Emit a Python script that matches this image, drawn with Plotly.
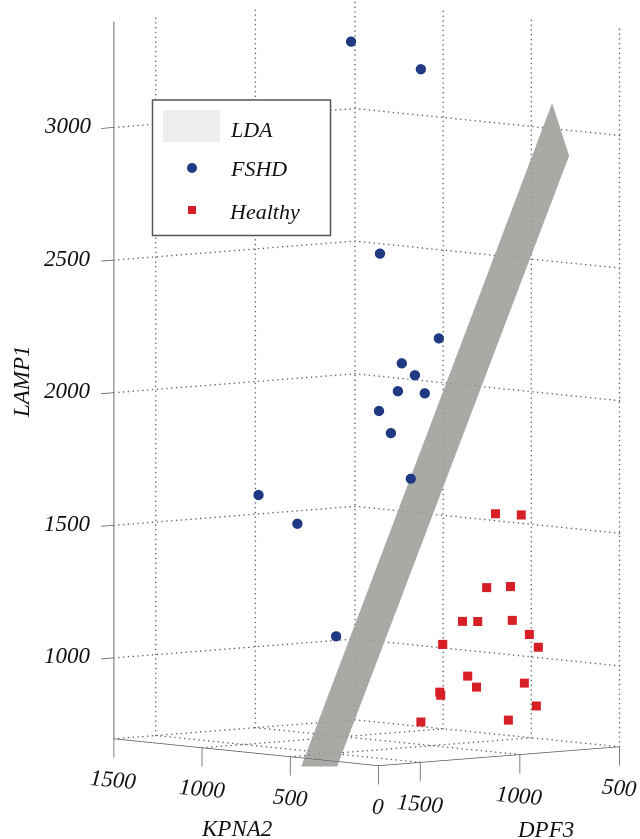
import plotly.graph_objects as go

# data
fshd_kpna2 = [750,675,900,600,825,675,750,525,900,750,150,1275,1050,750]
fshd_dpf3 = [1184,900,906,876,863,930,949,1013,911,984,1415,1184,1188,1259]
fshd_lamp1 = [3344,3228,2518,2217,2107,2076,2012,2023,1925,1856,1750,1599,1506,1106]
healthy_kpna2 = [300,225,375,225,450,375,225,150,150,525,450,375,150,525,525,75,150,450]
healthy_dpf3 = [857,794,835,848,890,880,839,820,775,923,864,886,845,938,933,851,925,1099]
healthy_lamp1 = [1575,1572,1290,1305,1161,1165,1177,1128,1077,1071,953,918,946,892,880,865,811,794]
lda_kpna2 = [525,300,150,375]
lda_dpf3 = [1633,1652,620,506]
lda_lamp1 = [651,668,2920,3097]
x_ticks = [0,500,1000,1500]
y_ticks = [500,1000,1500]
z_ticks = [1000,1500,2000,2500,3000]
x_range = [0,1500]
y_range = [500,1710]
z_range = [695,3400]
# the scene reaches a little past the box so that ticks and the LDA foot are not clipped
y_view = [500,1775]
z_view = [610,3400]

SERIF = "Liberation Serif"
BLUE = "#1f3a83"
RED = "#d71f26"
GRID = "#666666"

fig = go.Figure()
gx, gy, gz = [], [], []
def seg(a, b, n):
    for i in range(n+1):
        t = i/n
        gx.append(a[0]+(b[0]-a[0])*t); gy.append(a[1]+(b[1]-a[1])*t); gz.append(a[2]+(b[2]-a[2])*t)
for y in y_ticks + [y_range[0]]:
    seg((x_range[1], y, z_range[0]), (x_range[1], y, z_range[1]), 150)
for x in x_ticks[:-1]:
    seg((x, y_range[0], z_range[0]), (x, y_range[0], z_range[1]), 150)
for z in z_ticks:
    seg((x_range[1], y_range[1], z), (x_range[1], y_range[0], z), 50)
    seg((x_range[1], y_range[0], z), (x_range[0], y_range[0], z), 55)
seg((x_range[1], y_range[1], z_range[0]), (x_range[1], y_range[0], z_range[0]), 50)
seg((x_range[1], y_range[0], z_range[0]), (x_range[0], y_range[0], z_range[0]), 55)
for x in x_ticks[1:-1]:
    seg((x, y_range[0], z_range[0]), (x, y_range[1], z_range[0]), 50)
for y in y_ticks[1:]:
    seg((x_range[0], y, z_range[0]), (x_range[1], y, z_range[0]), 55)
fig.add_trace(go.Scatter3d(x=gx, y=gy, z=gz, mode="markers", marker=dict(color=GRID, size=0.9, line=dict(width=0)),
                           hoverinfo="skip", showlegend=False))
# floor axes and tick marks
tx, ty, tz = [x_range[1], x_range[0], None, x_range[0], x_range[0], None], [y_range[1], y_range[1], None, y_range[1], y_range[0], None], [z_range[0], z_range[0], None, z_range[0], z_range[0], None]
for x in x_ticks:
    tx += [x, x, None]; ty += [y_range[1], y_range[1], None]; tz += [z_range[0], z_range[0]-71, None]
for y in y_ticks:
    tx += [x_range[0], x_range[0], None]; ty += [y, y, None]; tz += [z_range[0], z_range[0]-71, None]
for z in z_ticks:
    tx += [x_range[1], x_range[1], None]; ty += [y_range[1], y_range[1]+65, None]; tz += [z, z, None]
fig.add_trace(go.Scatter3d(x=tx, y=ty, z=tz, mode="lines", line=dict(color="#555555", width=1.5),
                           hoverinfo="skip", showlegend=False))
fig.add_trace(go.Scatter3d(x=[x_range[1], x_range[1]], y=[y_range[1], y_range[1]], z=z_range, mode="lines",
                           line=dict(color="#888888", width=2.5), hoverinfo="skip", showlegend=False))
fig.add_trace(go.Mesh3d(x=lda_kpna2, y=lda_dpf3, z=lda_lamp1, i=[0,0], j=[1,2], k=[2,3], color="#9c9d99", opacity=0.87,
                        flatshading=True, lighting=dict(ambient=1, diffuse=0, specular=0, fresnel=0), name="LDA"))
fig.add_trace(go.Scatter3d(x=fshd_kpna2, y=fshd_dpf3, z=fshd_lamp1, mode="markers", name="FSHD",
                           marker=dict(size=6, color=BLUE, symbol="circle", line=dict(width=0))))
fig.add_trace(go.Scatter3d(x=healthy_kpna2, y=healthy_dpf3, z=healthy_lamp1, mode="markers", name="Healthy",
                           marker=dict(size=4.7, color=RED, symbol="square", line=dict(width=0))))

sin_a, cos_a = 0.660, -0.751
sin_e, cos_e = 0.0894, 0.996
d = (cos_e*cos_a, cos_e*sin_a, sin_e)
R = (-sin_a, cos_a, 0)
U = (-sin_e*cos_a, -sin_e*sin_a, cos_e)
q = 1/420
r = 2.0
center = [-(46.75*R[i] + 35.5*U[i])*q for i in range(3)]
center[1] -= 0.02055
center[2] += 0.02698
eye = [center[i] + d[i]*r for i in range(3)]

def axis(rng):
    return dict(range=rng, autorange=False, title=dict(text=""), showticklabels=False,
                showgrid=False, zeroline=False, showbackground=False, showspikes=False,
                showline=False, ticks="")

def tick_note(t, x, y, z, xs, ys, ang):
    return dict(text="<i>%s</i>" % t, x=x, y=y, z=z, showarrow=False, xshift=xs, yshift=ys, textangle=ang,
                xanchor="center", yanchor="middle", font=dict(family=SERIF, size=23, color="#111111"))
notes = [tick_note(v, v, y_range[1], z_range[0], 0, -41, 5) for v in x_ticks]
notes += [tick_note(v, x_range[0], v, z_range[0], 0, -41, 5) for v in y_ticks]
notes += [tick_note(v, x_range[1], y_range[1], v, -46, 2, 0) for v in z_ticks]

fig.update_layout(
    width=640, height=839, margin=dict(l=0, r=0, t=0, b=0), paper_bgcolor="white", showlegend=False,
    scene=dict(domain=dict(x=[0,1], y=[0,1]),
               xaxis=axis(x_range), yaxis=axis(y_view), zaxis=axis(z_view),
               aspectmode="manual", aspectratio=dict(x=0.955, y=0.8061, z=1.771),
               annotations=notes,
               camera=dict(projection=dict(type="orthographic"), up=dict(x=0, y=0, z=1),
                           center=dict(x=center[0], y=center[1], z=center[2]),
                           eye=dict(x=eye[0], y=eye[1], z=eye[2]))),
)
H = 839.0
def px(x): return x/640.0
def py(y): return 1 - y/H
def rect(x0,y0,x1,y1,**k):
    fig.add_shape(type="rect", xref="paper", yref="paper", x0=px(x0), x1=px(x1), y0=py(y0), y1=py(y1), **k)
rect(152.5,100,330.5,235.5, fillcolor="white", line=dict(color="#555555", width=1.5))
rect(163,110,220,142, fillcolor="#eeeeee", line=dict(width=0))
fig.add_shape(type="circle", xref="paper", yref="paper", x0=px(187), x1=px(197), y0=py(163), y1=py(173), fillcolor=BLUE, line=dict(width=0))
rect(188,206,196,214, fillcolor=RED, line=dict(width=0))
def label(t, x, y, rot=0, size=22):
    fig.add_annotation(text="<i>%s</i>"%t, xref="paper", yref="paper", x=px(x), y=py(y), showarrow=False,
                       font=dict(family=SERIF, size=size, color="#111111"), textangle=rot, xanchor="center", yanchor="middle")
label("LDA", 251, 129); label("FSHD", 258, 168); label("Healthy", 264, 211)
label("KPNA2", 236, 828, size=23); label("DPF3", 545, 829, size=23); label("LAMP1", 21, 382, -90, size=23)
fig.write_html("out.html", config={"displayModeBar": False},
               post_script="document.body.style.margin='0';document.documentElement.style.overflow='hidden';")
